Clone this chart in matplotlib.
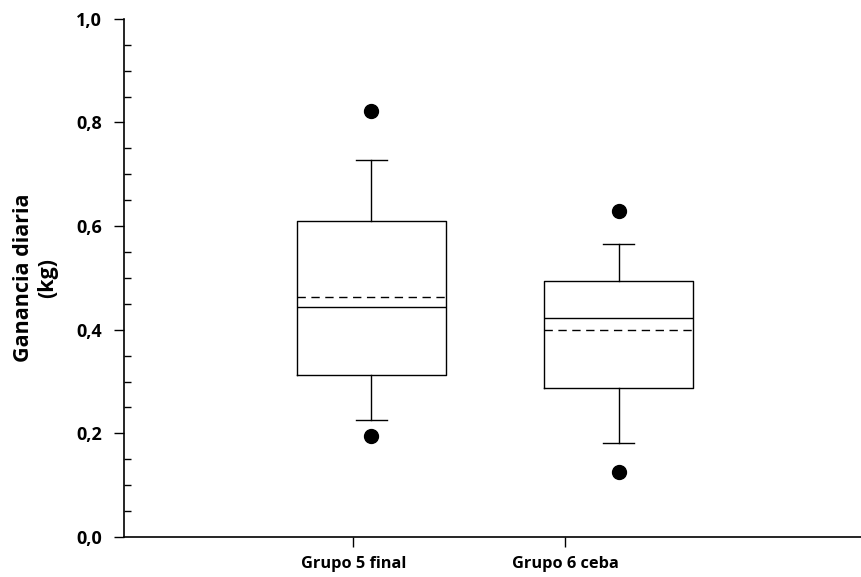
import matplotlib.pyplot as plt
from matplotlib.ticker import MultipleLocator, FuncFormatter

grupos = ['Grupo 5 final', 'Grupo 6 ceba']
posiciones = [1.0, 2.0]
pos_etiquetas = [0.927, 1.785]

q1 = [0.313, 0.288]
mediana = [0.444, 0.423]
q3 = [0.610, 0.494]
bigote_inf = [0.225, 0.181]
bigote_sup = [0.728, 0.566]
media = [0.463, 0.400]
atipicos = [[0.822, 0.195], [0.629, 0.125]]

stats = []
for i in range(len(grupos)):
    stats.append({'q1': q1[i], 'med': mediana[i], 'q3': q3[i],
                  'whislo': bigote_inf[i], 'whishi': bigote_sup[i],
                  'mean': media[i], 'fliers': atipicos[i]})

plt.rcParams['font.family'] = ['Open Sans', 'DejaVu Sans']

fig = plt.figure(figsize=(8.61, 5.77), dpi=100)
ax = fig.add_axes([0.144, 0.0693, 0.856, 0.898])

ax.bxp(stats, positions=posiciones, widths=0.603, showmeans=True, meanline=True,
       capwidths=0.124,
       boxprops=dict(color='black', linewidth=1.0),
       whiskerprops=dict(color='black', linewidth=1.0),
       capprops=dict(color='black', linewidth=1.0),
       medianprops=dict(color='black', linewidth=1.0),
       meanprops=dict(color='black', linewidth=1.0, linestyle=(0, (6, 4))),
       flierprops=dict(marker='o', markerfacecolor='black', markeredgecolor='black',
                       markersize=10))

ax.set_xlim(0, 2.98)
ax.set_ylim(0, 1.0)
ax.set_xticks(pos_etiquetas)
ax.set_xticklabels(grupos, fontsize=11.8, fontweight='bold')
ax.yaxis.set_major_locator(MultipleLocator(0.2))
ax.yaxis.set_minor_locator(MultipleLocator(0.05))
ax.yaxis.set_major_formatter(FuncFormatter(lambda v, p: f'{v:.1f}'.replace('.', ',')))
for t in ax.get_yticklabels():
    t.set_fontweight('bold')
    t.set_fontsize(13)

ax.spines['top'].set_visible(False)
ax.spines['right'].set_visible(False)
ax.spines['left'].set_linewidth(1.2)
ax.spines['bottom'].set_linewidth(1.2)
ax.tick_params(axis='y', which='major', direction='out', length=7, width=1.0, pad=9)
ax.tick_params(axis='y', which='minor', direction='in', length=5, width=1.0)
ax.tick_params(axis='x', which='major', direction='out', length=7, width=1.0, pad=7)

ax.set_ylabel('Ganancia diaria\n(kg)', fontsize=15.5, fontweight='bold', labelpad=13,
              linespacing=1.15)

fig.savefig('out.png', dpi=100)
